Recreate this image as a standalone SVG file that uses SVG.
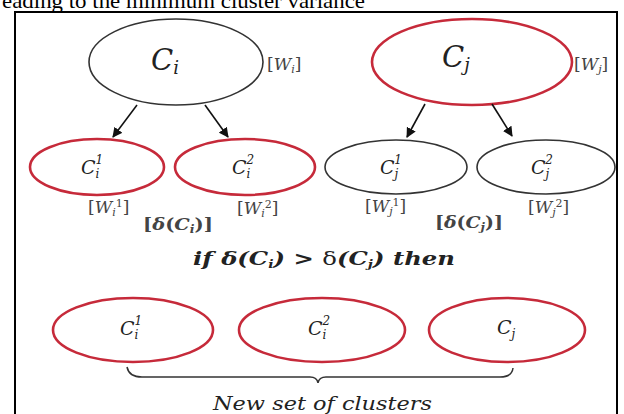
<svg xmlns="http://www.w3.org/2000/svg" width="624" height="414" viewBox="0 0 624 414">
<defs>
<marker id="ah" viewBox="0 0 10 10" refX="9" refY="5" markerWidth="10" markerHeight="10" markerUnits="userSpaceOnUse" orient="auto">
<path d="M0,0 L10,5 L0,10 z" fill="#111"/>
</marker>
<style>
.blk{fill:none;stroke:#333;stroke-width:1.6}
.red{fill:none;stroke:#c62a3a;stroke-width:2.6}
.m{font-family:"DejaVu Serif","Liberation Serif",serif;font-style:italic;fill:#222}
.lbl{font-family:"DejaVu Serif","Liberation Serif",serif;font-size:17px;fill:#444}
.b{font-weight:bold}
.con{stroke:#111;stroke-width:1.6;fill:none;marker-end:url(#ah)}
</style>
</defs>
<rect width="624" height="414" fill="#fff"/>
<text x="2" y="8" font-family="Liberation Serif, serif" font-size="21" fill="#000" textLength="363" lengthAdjust="spacingAndGlyphs">eading to the minimum cluster variance</text>
<rect x="15" y="12" width="602" height="420" fill="none" stroke="#000" stroke-width="2"/>

<g id="Ci">
<ellipse class="blk" cx="176" cy="62" rx="87" ry="43"/>
<text class="m" x="151" y="70" font-size="29">C<tspan font-size="18" dy="4">i</tspan></text>
<text class="lbl" x="267" y="70" fill="#666">[<tspan font-style="italic">W</tspan><tspan font-size="11" font-style="italic" dy="3">i</tspan><tspan dy="-3">]</tspan></text>
</g>
<g id="Cj">
<ellipse class="red" cx="472" cy="62" rx="100" ry="43"/>
<text class="m" x="442" y="67" font-size="29">C<tspan font-size="18" dy="4">j</tspan></text>
<text class="lbl" x="574" y="70" fill="#666">[<tspan font-style="italic">W</tspan><tspan font-size="11" font-style="italic" dy="3">j</tspan><tspan dy="-3">]</tspan></text>
</g>
<g id="Ci1">
<ellipse class="red" cx="97" cy="167" rx="67" ry="28"/>
<text class="m" x="81" y="174" font-size="19">C<tspan font-size="12" dy="4">i</tspan><tspan font-size="12" dx="-4" dy="-14">1</tspan></text>
<text class="lbl" x="88" y="213">[<tspan font-style="italic">W</tspan><tspan font-size="11" font-style="italic" dy="3">i</tspan><tspan font-size="11" dy="-9">1</tspan><tspan dy="6">]</tspan></text>
</g>
<g id="Ci2">
<ellipse class="red" cx="245" cy="167" rx="70" ry="28"/>
<text class="m" x="232" y="174" font-size="19">C<tspan font-size="12" dy="4">i</tspan><tspan font-size="12" dx="-4" dy="-14">2</tspan></text>
<text class="lbl" x="237" y="214">[<tspan font-style="italic">W</tspan><tspan font-size="11" font-style="italic" dy="3">i</tspan><tspan font-size="11" dy="-9">2</tspan><tspan dy="6">]</tspan></text>
</g>
<text class="lbl b" x="143" y="230" textLength="70" lengthAdjust="spacingAndGlyphs">[<tspan font-style="italic">δ</tspan>(<tspan font-style="italic">C</tspan><tspan font-size="11" font-style="italic" dy="3">i</tspan><tspan dy="-3">)]</tspan></text>
<g id="Cj1">
<ellipse class="blk" cx="396" cy="167" rx="71" ry="27"/>
<text class="m" x="380" y="174" font-size="19">C<tspan font-size="12" dy="4">j</tspan><tspan font-size="12" dx="-4" dy="-14">1</tspan></text>
<text class="lbl" x="365" y="212">[<tspan font-style="italic">W</tspan><tspan font-size="11" font-style="italic" dy="3">j</tspan><tspan font-size="11" dy="-9">1</tspan><tspan dy="6">]</tspan></text>
</g>
<g id="Cj2">
<ellipse class="blk" cx="546" cy="167" rx="69" ry="27"/>
<text class="m" x="531" y="174" font-size="19">C<tspan font-size="12" dy="4">j</tspan><tspan font-size="12" dx="-4" dy="-14">2</tspan></text>
<text class="lbl" x="528" y="213">[<tspan font-style="italic">W</tspan><tspan font-size="11" font-style="italic" dy="3">j</tspan><tspan font-size="11" dy="-9">2</tspan><tspan dy="6">]</tspan></text>
</g>
<text class="lbl b" x="435" y="228" textLength="68" lengthAdjust="spacingAndGlyphs">[<tspan font-style="italic">δ</tspan>(<tspan font-style="italic">C</tspan><tspan font-size="11" font-style="italic" dy="3">j</tspan><tspan dy="-3">)]</tspan></text>

<text class="m b" x="193" y="265" font-size="19" fill="#111" textLength="262" lengthAdjust="spacingAndGlyphs">if δ(C<tspan font-size="11" dy="3">i</tspan><tspan dy="-3">) &gt; </tspan><tspan font-weight="normal" font-style="normal">δ</tspan>(C<tspan font-size="11" dy="3">j</tspan><tspan dy="-3">) then</tspan></text>

<g id="N1">
<ellipse class="red" cx="133" cy="330" rx="80" ry="32"/>
<text class="m" x="120" y="335" font-size="19">C<tspan font-size="12" dy="4">i</tspan><tspan font-size="12" dx="-4" dy="-14">1</tspan></text>
</g>
<g id="N2">
<ellipse class="red" cx="322" cy="330" rx="83" ry="32"/>
<text class="m" x="308" y="335" font-size="19">C<tspan font-size="12" dy="4">i</tspan><tspan font-size="12" dx="-4" dy="-14">2</tspan></text>
</g>
<g id="N3">
<ellipse class="red" cx="507" cy="330" rx="78" ry="32"/>
<text class="m" x="497" y="334" font-size="19">C<tspan font-size="12" dy="4">j</tspan></text>
</g>

<g id="connectors">
<line class="con" x1="137" y1="105" x2="113" y2="137"/>
<line class="con" x1="205" y1="105" x2="228" y2="137"/>
<line class="con" x1="425" y1="104" x2="407" y2="137"/>
<line class="con" x1="492" y1="104" x2="512" y2="136"/>
<path d="M127,367 Q129,377 142,377 L310,377 Q317,377 318,383 Q319,377 326,377 L500,377 Q512,377 513,368" fill="none" stroke="#333" stroke-width="1.5"/>
</g>
<text class="m" x="213" y="410" font-size="19" fill="#333" textLength="219" lengthAdjust="spacingAndGlyphs">New set of clusters</text>
</svg>
